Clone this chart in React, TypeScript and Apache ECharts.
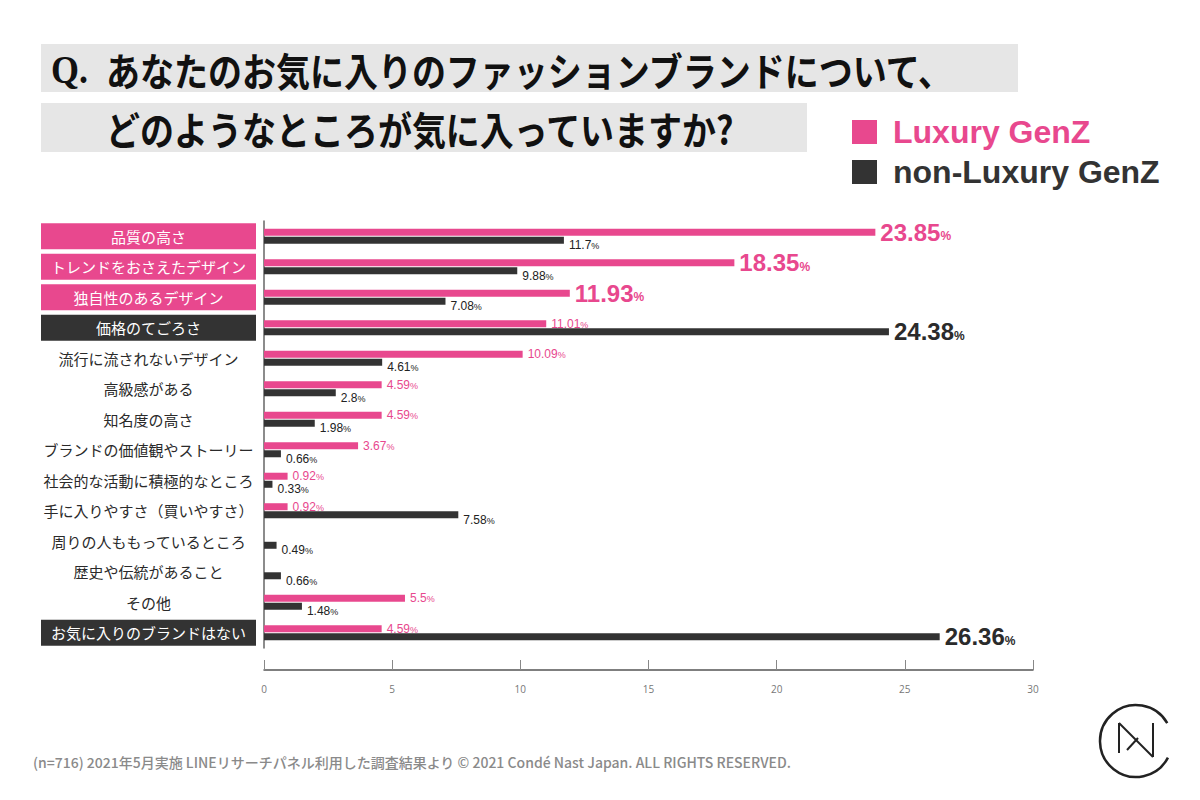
import React, { useEffect, useRef } from "react";
import * as echarts from "echarts";

const categories = [
  "品質の高さ",
  "トレンドをおさえたデザイン",
  "独自性のあるデザイン",
  "価格のてごろさ",
  "流行に流されないデザイン",
  "高級感がある",
  "知名度の高さ",
  "ブランドの価値観やストーリー",
  "社会的な活動に積極的なところ",
  "手に入りやすさ（買いやすさ）",
  "周りの人ももっているところ",
  "歴史や伝統があること",
  "その他",
  "お気に入りのブランドはない",
];
const luxury: (number | null)[] = [23.85, 18.35, 11.93, 11.01, 10.09, 4.59, 4.59, 3.67, 0.92, 0.92, null, null, 5.5, 4.59];
const nonLuxury: number[] = [11.7, 9.88, 7.08, 24.38, 4.61, 2.8, 1.98, 0.66, 0.33, 7.58, 0.49, 0.66, 1.48, 26.36];
// which group leads for highlighted categories
const highlight = ["lux", "lux", "lux", "non", "", "", "", "", "", "", "", "", "", "non"];
const seriesNames = ["Luxury GenZ", "non-Luxury GenZ"];
const xMin = 0;
const xMax = 30;
const xInterval = 5;
const titleLine1 = "あなたのお気に入りのファッションブランドについて、";
const titleLine2 = "どのようなところが気に入っていますか?";
const footer = "(n=716) 2021年5月実施 LINEリサーチパネル利用した調査結果より © 2021 Condé Nast Japan. ALL RIGHTS RESERVED.";

const PINK = "#e8488e";
const DARK = "#333333";
const JP = "'Noto Sans CJK JP', sans-serif";
const LAT = "'Liberation Sans', Arial, sans-serif";

export default function App() {
  const ref = useRef<HTMLDivElement>(null);
  useEffect(() => {
    document.body.style.margin = "0";
    const chart = echarts.init(ref.current!, null, { renderer: "svg" });

    const luxData = luxury.map((v, i) => {
      if (v == null) return { value: "-" as any };
      const big = highlight[i] === "lux";
      return {
        value: v,
        label: {
          formatter: big ? `{bp|${v}}{bpp|%}` : `{sp|${v}}{spp|%}`,
        },
      };
    });
    const nonData = nonLuxury.map((v, i) => {
      const big = highlight[i] === "non";
      return {
        value: v,
        label: {
          formatter: big ? `{bn|${v}}{bnp|%}` : `{sn|${v}}{snp|%}`,
          offset: big ? [0, 0] : [0, 5],
        },
      };
    });

    const labelRich = {
      bp: { fontSize: 24, fontWeight: "bold", color: PINK, fontFamily: LAT },
      bpp: { fontSize: 12, fontWeight: "bold", color: PINK, fontFamily: LAT, padding: [8, 0, 0, 0] },
      sp: { fontSize: 12, color: PINK, fontFamily: LAT },
      spp: { fontSize: 9, color: PINK, fontFamily: LAT, padding: [2, 0, 0, 0] },
      bn: { fontSize: 24, fontWeight: "bold", color: "#2b2b2b", fontFamily: LAT },
      bnp: { fontSize: 12, fontWeight: "bold", color: "#2b2b2b", fontFamily: LAT, padding: [8, 0, 0, 0] },
      sn: { fontSize: 12, color: "#222", fontFamily: LAT },
      snp: { fontSize: 9, color: "#222", fontFamily: LAT, padding: [2, 0, 0, 0] },
    };

    const option: any = {
      animation: false,
      backgroundColor: "#ffffff",
      legend: {
        orient: "vertical",
        left: 852,
        top: 116,
        padding: 0,
        itemWidth: 25,
        itemHeight: 24,
        itemGap: 8,
        icon: "rect",
        selectedMode: false,
        textStyle: {
          fontFamily: LAT,
          fontSize: 32,
          fontWeight: "bold",
          lineHeight: 32,
          padding: [0, 0, 0, 11],
        },
        data: [
          { name: seriesNames[0], textStyle: { color: PINK } },
          { name: seriesNames[1], textStyle: { color: DARK } },
        ],
      },
      grid: { left: 264, right: 167, top: 221, bottom: 152, containLabel: false },
      xAxis: {
        type: "value",
        min: xMin,
        max: xMax,
        interval: xInterval,
        offset: 22,
        splitLine: { show: false },
        axisLine: { show: true, lineStyle: { color: "#555", width: 1.5 } },
        axisTick: { show: true, inside: true, length: 10, lineStyle: { color: "#888" } },
        axisLabel: { color: "#777", fontSize: 10, margin: 14, fontFamily: "'Open Sans', sans-serif" },
      },
      yAxis: {
        type: "category",
        inverse: true,
        data: categories,
        axisTick: { show: false },
        axisLine: { show: true, lineStyle: { color: "#666", width: 1.5 } },
        axisLabel: {
          margin: 8,
          interval: 0,
          formatter: (v: string, i: number) => {
            const s = highlight[i] === "lux" ? "lux" : highlight[i] === "non" ? "non" : "plain";
            return `{${s}|${v}}`;
          },
          rich: {
            lux: { backgroundColor: PINK, color: "#fff", width: 215, height: 26, lineHeight: 26, align: "center", fontSize: 15, fontFamily: JP },
            non: { backgroundColor: DARK, color: "#fff", width: 215, height: 26, lineHeight: 26, align: "center", fontSize: 15, fontFamily: JP },
            plain: { color: "#2a2a2a", width: 215, height: 26, lineHeight: 26, align: "center", fontSize: 15, fontFamily: JP },
          },
        },
      },
      series: [
        {
          name: seriesNames[0],
          type: "bar",
          data: luxData,
          barWidth: 7,
          barGap: "15%",
          itemStyle: { color: PINK },
          label: { show: true, position: "right", distance: 5, rich: labelRich },
        },
        {
          name: seriesNames[1],
          type: "bar",
          data: nonData,
          barWidth: 7,
          barGap: "15%",
          itemStyle: { color: DARK },
          label: { show: true, position: "right", distance: 5, rich: labelRich },
        },
      ],
      graphic: [
        { type: "rect", left: 41, top: 44, shape: { width: 977, height: 48 }, style: { fill: "#e6e6e6" }, z: 0 },
        { type: "rect", left: 41, top: 103, shape: { width: 766, height: 49 }, style: { fill: "#e6e6e6" }, z: 0 },
        {
          type: "text", x: 51, y: 69, z: 2, scaleY: 1.12,
          style: { text: "Q.", fill: "#111", font: "bold 36px 'Liberation Serif', serif", verticalAlign: "middle" },
        },
        {
          type: "text", x: 106, y: 69, z: 2, scaleY: 1.15,
          style: { text: titleLine1, fill: "#111", font: `bold 34px ${JP}`, verticalAlign: "middle" },
        },
        {
          type: "text", x: 106, y: 128, z: 2, scaleY: 1.15,
          style: { text: titleLine2, fill: "#111", font: `bold 34px ${JP}`, verticalAlign: "middle" },
        },
        {
          type: "text", x: 33, y: 762, z: 2,
          style: { text: footer, fill: "#8a8a8a", font: `500 14px ${JP}`, verticalAlign: "middle" },
        },
        {
          type: "arc", z: 2,
          shape: { cx: 1136, cy: 741, r: 36, startAngle: 0.48, endAngle: Math.PI * 2 - 0.52, clockwise: true },
          style: { stroke: "#222", lineWidth: 2.5, fill: "none" },
        },
        { type: "line", z: 2, shape: { x1: 1119, y1: 723, x2: 1119, y2: 753 }, style: { stroke: "#222", lineWidth: 2 } },
        { type: "line", z: 2, shape: { x1: 1119, y1: 723, x2: 1153, y2: 757 }, style: { stroke: "#222", lineWidth: 2 } },
        { type: "line", z: 2, shape: { x1: 1153, y1: 723, x2: 1153, y2: 757 }, style: { stroke: "#222", lineWidth: 2 } },
        { type: "line", z: 2, shape: { x1: 1127, y1: 750, x2: 1138, y2: 738 }, style: { stroke: "#222", lineWidth: 2 } },
      ],
    };
    chart.setOption(option);
    return () => chart.dispose();
  }, []);
  return <div ref={ref} style={{ position: "absolute", left: 0, top: 0, width: 1200, height: 800 }} />;
}
